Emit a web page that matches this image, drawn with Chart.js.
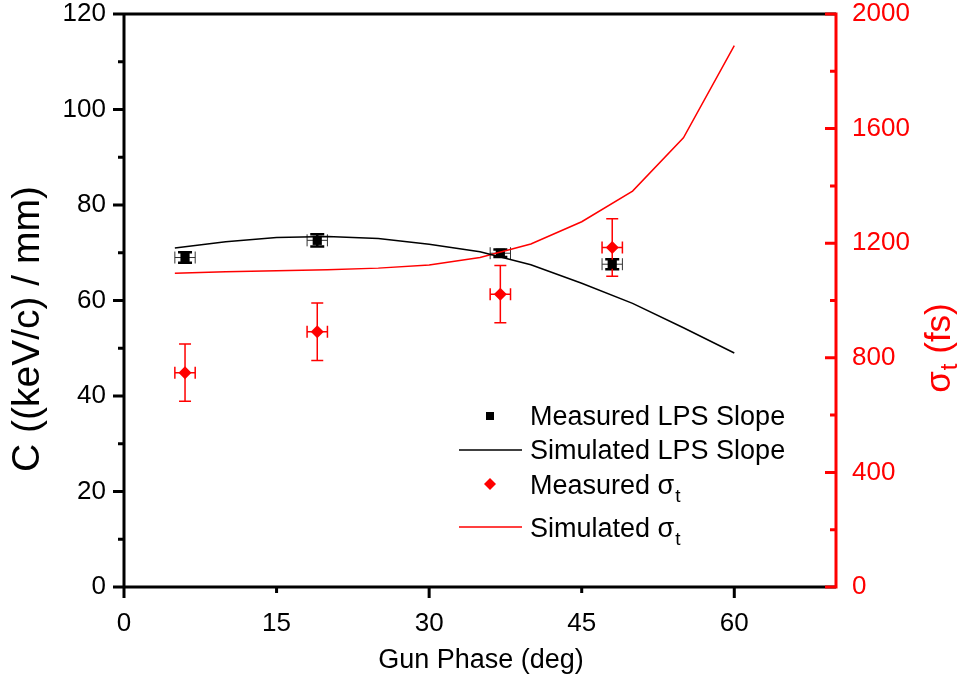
<!DOCTYPE html>
<html>
<head>
<meta charset="utf-8">
<script src="https://cdn.jsdelivr.net/npm/chart.js@4.4.1/dist/chart.umd.min.js"></script>
<style>
  html, body { margin: 0; padding: 0; background: #fff; }
  canvas { display: block; }
</style>
</head>
<body>
<canvas id="chartPhase" width="968" height="686"></canvas>
<script>
// measured points (gun phase in deg)
const phase = [6, 19, 37, 48];
const phaseErr = [1, 1, 1, 1];
const slopeMeas = [69.0, 72.6, 69.9, 67.6];
const slopeErr = [1.1, 1.3, 0.8, 1.05];
const sigmaMeas = [748, 891, 1022, 1185];
const sigmaErr = [100, 100, 100, 100];

// simulation curves
const simPhase = [5, 10, 15, 20, 25, 30, 35, 40, 45, 50, 55, 60];
const slopeSim = [71.0, 72.3, 73.2, 73.4, 73.0, 71.8, 70.2, 67.5, 63.6, 59.4, 54.3, 49.0];
const sigmaSim = [1095, 1100, 1104, 1107, 1113, 1124, 1150, 1197, 1275, 1382, 1568, 1890];

// tick labels
const xTicks = [0, 15, 30, 45, 60];
const yTicks = [0, 20, 40, 60, 80, 100, 120];
const y2Ticks = [0, 400, 800, 1200, 1600, 2000];

const RED = '#ff0000';
const FONT = '"Liberation Sans", Arial, sans-serif';

function pts(xs, ys) {
  return xs.map((x, i) => ({ x: x, y: ys[i] }));
}

// error bars, drawn under the markers
const errorBars = {
  id: 'errorBars',
  beforeDatasetsDraw(chart) {
    const ctx = chart.ctx;
    const xs = chart.scales.x;
    const sets = [
      { ys: chart.scales.y, vals: slopeMeas, err: slopeErr, color: '#000', hColor: '#333', lw: 1, vw: 2.5, capY: 7, capX: 6 },
      { ys: chart.scales.y2, vals: sigmaMeas, err: sigmaErr, color: RED, hColor: RED, lw: 1.5, vw: 1.5, capY: 6, capX: 6 }
    ];
    ctx.save();
    sets.forEach(s => {
      phase.forEach((p, i) => {
        const px = xs.getPixelForValue(p);
        const py = s.ys.getPixelForValue(s.vals[i]);
        const x0 = xs.getPixelForValue(p - phaseErr[i]);
        const x1 = xs.getPixelForValue(p + phaseErr[i]);
        const y0 = s.ys.getPixelForValue(s.vals[i] + s.err[i]);
        const y1 = s.ys.getPixelForValue(s.vals[i] - s.err[i]);
        ctx.strokeStyle = s.hColor;
        ctx.lineWidth = s.lw;
        ctx.beginPath();
        ctx.moveTo(x0, py); ctx.lineTo(x1, py);
        ctx.moveTo(x0, py - s.capX); ctx.lineTo(x0, py + s.capX);
        ctx.moveTo(x1, py - s.capX); ctx.lineTo(x1, py + s.capX);
        ctx.stroke();
        ctx.strokeStyle = s.color;
        ctx.lineWidth = s.vw;
        ctx.beginPath();
        ctx.moveTo(px, y0); ctx.lineTo(px, y1);
        ctx.moveTo(px - s.capY, y0); ctx.lineTo(px + s.capY, y0);
        ctx.moveTo(px - s.capY, y1); ctx.lineTo(px + s.capY, y1);
        ctx.stroke();
      });
    });
    ctx.restore();
  }
};

// axis frame with inner/outer ticks like the original plot
const frame = {
  id: 'frame',
  afterDatasetsDraw(chart) {
    const ctx = chart.ctx;
    const a = chart.chartArea;
    const xs = chart.scales.x, ys = chart.scales.y, y2 = chart.scales.y2;
    ctx.save();
    ctx.lineWidth = 3;
    ctx.lineCap = 'butt';
    ctx.strokeStyle = '#000';
    ctx.beginPath();
    ctx.moveTo(a.left, a.top - 1.5); ctx.lineTo(a.left, a.bottom + 1.5);
    ctx.moveTo(a.left - 1.5, a.bottom); ctx.lineTo(a.right, a.bottom);
    ctx.moveTo(a.left - 1.5, a.top); ctx.lineTo(a.right, a.top);
    for (let v = 0; v <= 120; v += 10) {
      const py = ys.getPixelForValue(v);
      ctx.moveTo(a.left, py); ctx.lineTo(a.left - (v % 20 === 0 ? 11 : 6), py);
    }
    for (let v = 0; v <= 60; v += 15) {
      const px = xs.getPixelForValue(v);
      ctx.moveTo(px, a.bottom); ctx.lineTo(px, a.bottom + (v % 30 === 0 ? 11 : 6));
    }
    ctx.stroke();
    ctx.strokeStyle = RED;
    ctx.beginPath();
    ctx.moveTo(a.right, a.top - 1.5); ctx.lineTo(a.right, a.bottom + 1.5);
    for (let v = 0; v <= 2000; v += 200) {
      const py = y2.getPixelForValue(v);
      ctx.moveTo(a.right, py); ctx.lineTo(a.right - (v % 400 === 0 ? 11 : 6), py);
    }
    ctx.stroke();
    ctx.restore();
  }
};

function subText(ctx, main, sub, x, y, size) {
  ctx.font = size + 'px ' + FONT;
  ctx.fillText(main, x, y);
  const w = ctx.measureText(main).width;
  ctx.font = Math.round(size * 0.7) + 'px ' + FONT;
  ctx.fillText(sub, x + w + 1, y + size * 0.3);
}

// legend and axis titles
const annotate = {
  id: 'annotate',
  afterDraw(chart) {
    const ctx = chart.ctx;
    ctx.save();
    ctx.textBaseline = 'alphabetic';
    ctx.textAlign = 'left';

    // legend
    const lx = 490, tx = 530;
    ctx.fillStyle = '#000';
    ctx.fillRect(lx - 4, 412, 8, 8);
    ctx.strokeStyle = '#000';
    ctx.lineWidth = 1.5;
    ctx.beginPath(); ctx.moveTo(459, 450); ctx.lineTo(522, 450); ctx.stroke();
    ctx.fillStyle = RED;
    ctx.beginPath();
    ctx.moveTo(lx, 478); ctx.lineTo(lx + 6, 484); ctx.lineTo(lx, 490); ctx.lineTo(lx - 6, 484);
    ctx.closePath(); ctx.fill();
    ctx.strokeStyle = RED;
    ctx.beginPath(); ctx.moveTo(459, 527); ctx.lineTo(522, 527); ctx.stroke();

    ctx.fillStyle = '#000';
    ctx.font = '27px ' + FONT;
    ctx.fillText('Measured LPS Slope', tx, 425);
    ctx.fillText('Simulated LPS Slope', tx, 459);
    subText(ctx, 'Measured σ', 't', tx, 494, 27);
    subText(ctx, 'Simulated σ', 't', tx, 537, 27);

    // x title
    ctx.textAlign = 'center';
    ctx.textBaseline = 'middle';
    ctx.font = '27px ' + FONT;
    ctx.fillText('Gun Phase (deg)', 481, 661);

    // left title
    ctx.save();
    ctx.translate(28, 329);
    ctx.rotate(-Math.PI / 2);
    ctx.font = '39px ' + FONT;
    ctx.fillText('C ((keV/c) / mm)', 0, 0);
    ctx.restore();

    // right title with subscript
    ctx.save();
    ctx.translate(940, 348);
    ctx.rotate(-Math.PI / 2);
    ctx.fillStyle = RED;
    ctx.textAlign = 'left';
    ctx.textBaseline = 'middle';
    ctx.font = '35px ' + FONT;
    const w1 = ctx.measureText('σ').width;
    const w3 = ctx.measureText(' (fs)').width;
    ctx.font = '24px ' + FONT;
    const w2 = ctx.measureText('t').width;
    const start = -(w1 + w2 + 1 + w3) / 2;
    ctx.font = '35px ' + FONT;
    ctx.fillText('σ', start, 0);
    ctx.font = '24px ' + FONT;
    ctx.fillText('t', start + w1 + 1, 10);
    ctx.font = '35px ' + FONT;
    ctx.fillText(' (fs)', start + w1 + w2 + 1, 0);
    ctx.restore();

    ctx.restore();
  }
};

const tickFont = { family: FONT, size: 26, lineHeight: 1 };
const plain = v => String(v);

new Chart(document.getElementById('chartPhase'), {
  type: 'scatter',
  data: {
    datasets: [
      {
        label: 'Simulated LPS Slope',
        data: pts(simPhase, slopeSim),
        yAxisID: 'y',
        showLine: true,
        borderColor: '#000',
        borderWidth: 1.5,
        pointRadius: 0,
        fill: false
      },
      {
        label: 'Simulated σt',
        data: pts(simPhase, sigmaSim),
        yAxisID: 'y2',
        showLine: true,
        borderColor: RED,
        borderWidth: 1.5,
        pointRadius: 0,
        fill: false
      },
      {
        label: 'Measured LPS Slope',
        data: pts(phase, slopeMeas),
        yAxisID: 'y',
        pointStyle: 'rect',
        pointRadius: 6.5,
        backgroundColor: '#000',
        borderColor: '#000',
        borderWidth: 0
      },
      {
        label: 'Measured σt',
        data: pts(phase, sigmaMeas),
        yAxisID: 'y2',
        pointStyle: 'rectRot',
        pointRadius: 6.5,
        backgroundColor: RED,
        borderColor: RED,
        borderWidth: 0
      }
    ]
  },
  options: {
    responsive: false,
    animation: false,
    layout: { padding: { top: 14, left: 0, right: 0, bottom: 0 } },
    plugins: {
      legend: { display: false },
      tooltip: { enabled: false }
    },
    scales: {
      x: {
        type: 'linear',
        position: 'bottom',
        min: 0,
        max: 70,
        grid: { display: false, drawTicks: false },
        border: { display: false },
        afterBuildTicks: s => { s.ticks = xTicks.map(v => ({ value: v })); },
        ticks: { font: tickFont, color: '#000', padding: 24, maxRotation: 0, callback: plain },
        afterFit: s => { s.height = 99; s.paddingLeft = 0; s.paddingRight = 0; }
      },
      y: {
        type: 'linear',
        position: 'left',
        min: 0,
        max: 120,
        grid: { display: false, drawTicks: false },
        border: { display: false },
        afterBuildTicks: s => { s.ticks = yTicks.map(v => ({ value: v })); },
        ticks: { font: tickFont, color: '#000', padding: 18, callback: plain },
        afterFit: s => { s.width = 124; s.paddingTop = 0; s.paddingBottom = 0; }
      },
      y2: {
        type: 'linear',
        position: 'right',
        min: 0,
        max: 2000,
        grid: { display: false, drawTicks: false },
        border: { display: false },
        afterBuildTicks: s => { s.ticks = y2Ticks.map(v => ({ value: v })); },
        ticks: { font: tickFont, color: RED, padding: 16, callback: plain },
        afterFit: s => { s.width = 132; s.paddingTop = 0; s.paddingBottom = 0; }
      }
    }
  },
  plugins: [errorBars, frame, annotate]
});
</script>
</body>
</html>
